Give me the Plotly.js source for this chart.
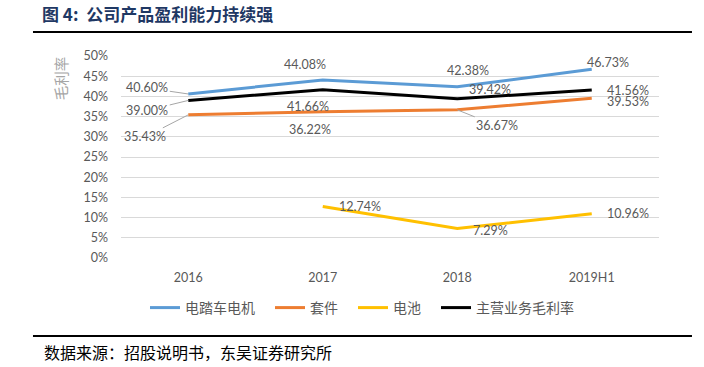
<!DOCTYPE html>
<html>
<head>
<meta charset="utf-8">
<script src="https://cdn.plot.ly/plotly-3.0.1.min.js"></script>
<style>html,body{margin:0;padding:0;background:#fff;}#chart{width:704px;height:367px;}</style>
</head>
<body>
<div id="chart"></div>
<script>
// ---- data ----
const categories = ['2016', '2017', '2018', '2019H1'];
const motor = [40.60, 44.08, 42.38, 46.73];      // 电踏车电机
const kit = [35.43, 36.22, 36.67, 39.53];        // 套件
const battery = [null, 12.74, 7.29, 10.96];      // 电池
const overall = [39.00, 41.66, 39.42, 41.56];    // 主营业务毛利率
const seriesNames = ['电踏车电机', '套件', '电池', '主营业务毛利率'];
const yTickVals = [0, 5, 10, 15, 20, 25, 30, 35, 40, 45, 50];
const yTickText = ['0%', '5%', '10%', '15%', '20%', '25%', '30%', '35%', '40%', '45%', '50%'];

// ---- styles ----
const colors = ['#5B9BD5', '#ED7D31', '#FFC000', '#000000'];
const FONT = 'Lato, "Noto Sans CJK SC", sans-serif';
const CJK = '"Noto Sans CJK SC", sans-serif';
// label offsets (dx, dy in px, text centre relative to point), third flag = leader line
const labelOffsets = [
  [[-41, -6, true], [-18, -15], [11, -16], [16, -7]],
  [[-43, 22, true], [-13, 18], [40, 16, true], [36, 3]],
  [null, [37, 0], [33, 2], [36, 0]],
  [[-41, 10, true], [-15, 17], [33, -9], [36, 0]]
];
// legend entry positions (paper x) – one legend box per series, as in the reference spacing
const legendX = [0.0446, 0.2770, 0.4312, 0.5855];
const legendIds = ['legend', 'legend2', 'legend3', 'legend4'];

const allSeries = [motor, kit, battery, overall];
const traces = allSeries.map((vals, i) => ({
  type: 'scatter', mode: 'lines', name: seriesNames[i],
  x: categories, y: vals,
  line: {color: colors[i], width: 3},
  connectgaps: false, hoverinfo: 'skip',
  legend: legendIds[i]
}));

const annotations = [];
allSeries.forEach((vals, si) => {
  vals.forEach((v, ci) => {
    if (v === null) return;
    const off = labelOffsets[si][ci];
    const a = {
      x: ci, y: v, xref: 'x', yref: 'y',
      text: v.toFixed(2) + '%',
      font: {family: FONT, size: 12.5, color: '#595959'}
    };
    if (off[2]) {
      Object.assign(a, {showarrow: true, arrowhead: 0, arrowwidth: 1, arrowcolor: '#A6A6A6',
        ax: off[0], ay: off[1], standoff: 0});
    } else {
      Object.assign(a, {showarrow: false, xshift: off[0], yshift: -off[1]});
    }
    annotations.push(a);
  });
});

// y axis title
annotations.push({
  xref: 'paper', yref: 'paper', x: -0.113, y: 0.891, xanchor: 'center', yanchor: 'middle',
  showarrow: false, text: '毛利率', textangle: -90,
  font: {family: CJK, size: 14.5, color: '#A6A6A6'}
});
// footer
annotations.push({
  xref: 'paper', yref: 'paper', x: -0.1468, y: -0.465, xanchor: 'left', yanchor: 'middle',
  showarrow: false, text: '数据来源：招股说明书，东吴证券研究所',
  font: {family: CJK, size: 16, color: '#000000'}
});

const layout = {
  width: 704, height: 367,
  margin: {l: 121, r: 45, t: 56, b: 109},
  paper_bgcolor: '#ffffff', plot_bgcolor: '#ffffff',
  title: {
    text: '<b>图 4:  公司产品盈利能力持续强</b>',
    x: 42 / 704, xanchor: 'left', xref: 'container',
    y: 1 - 15 / 367, yanchor: 'middle', yref: 'container',
    font: {family: CJK, size: 17, color: '#1F3864'}
  },
  xaxis: {
    type: 'category', range: [-0.5, 3.5],
    showgrid: false, zeroline: false, showline: false, ticks: '',
    tickfont: {family: FONT, size: 12.5, color: '#595959'},
    ticklabelstandoff: 10
  },
  yaxis: {
    range: [0, 50], tickmode: 'array', tickvals: yTickVals, ticktext: yTickText,
    showgrid: true, gridcolor: '#D9D9D9', gridwidth: 1,
    zeroline: false, showline: false, ticks: '',
    tickfont: {family: FONT, size: 12.5, color: '#595959'},
    ticklabelstandoff: 12
  },
  showlegend: true,
  shapes: [
    {type: 'line', xref: 'paper', yref: 'paper', x0: -0.1636, x1: 1.0613, y0: 1.1188, y1: 1.1188,
     line: {color: '#000000', width: 2}},
    {type: 'line', xref: 'paper', yref: 'paper', x0: -0.1636, x1: 1.0613, y0: -0.386, y1: -0.386,
     line: {color: '#000000', width: 2}}
  ],
  annotations: annotations
};
legendIds.forEach((id, i) => {
  layout[id] = {
    orientation: 'h', x: legendX[i], xanchor: 'left', y: -0.2475, yanchor: 'middle',
    font: {family: CJK, size: 14, color: '#595959'},
    itemwidth: 30, bgcolor: 'rgba(0,0,0,0)'
  };
});

Plotly.newPlot('chart', traces, layout, {displayModeBar: false, staticPlot: true});
</script>
</body>
</html>
